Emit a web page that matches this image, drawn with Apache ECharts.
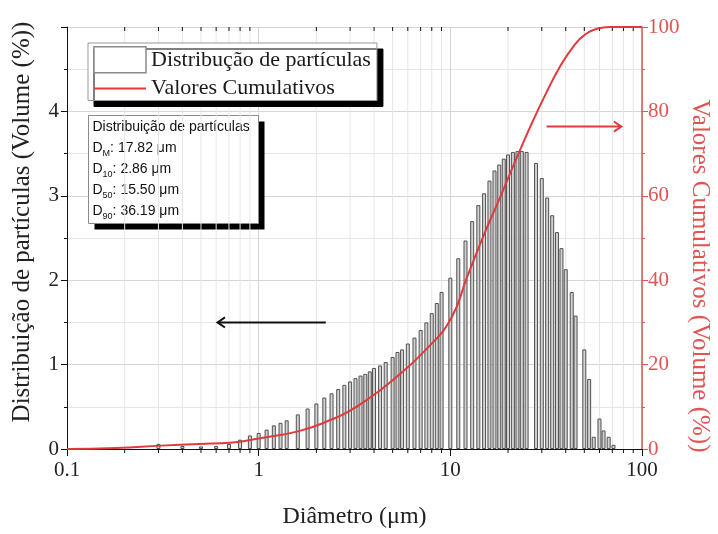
<!DOCTYPE html>
<html>
<head>
<meta charset="utf-8">
<script src="https://cdn.jsdelivr.net/npm/echarts@6/dist/echarts.min.js"></script>
<style>
  html, body { margin: 0; padding: 0; background: #fff; }
  #chart { width: 718px; height: 534px; }
</style>
</head>
<body>
<div id="chart"></div>
<script>
// Particle size classes (µm) and volume fraction per class (%)
const diameters = [0.3, 0.4, 0.5, 0.6, 0.7, 0.8, 0.9, 1.0, 1.1, 1.2, 1.3, 1.4,
  1.6, 1.8, 2.0, 2.2, 2.4, 2.6, 2.8, 3.0, 3.2, 3.4, 3.6, 3.8, 4.0,
  4.3, 4.6, 5.0, 5.3, 5.6, 6.0, 6.5, 7.0, 7.5, 8.0, 8.5, 9.0,
  10, 11, 12, 13, 14, 15, 16, 17, 18, 19, 20, 21.2, 22.4, 23.6, 25,
  28, 30, 32, 34, 36, 38, 40, 43, 45, 50, 53, 56, 60, 63, 67, 71];
const volumes = [0.06, 0.035, 0.03, 0.035, 0.06, 0.11, 0.16, 0.19, 0.23, 0.28, 0.31, 0.34,
  0.41, 0.48, 0.54, 0.61, 0.66, 0.71, 0.76, 0.80, 0.84, 0.87, 0.89, 0.92, 0.96,
  0.99, 1.03, 1.09, 1.15, 1.18, 1.25, 1.32, 1.41, 1.50, 1.61, 1.73, 1.86,
  2.03, 2.26, 2.47, 2.70, 2.89, 3.03, 3.18, 3.30, 3.37, 3.44, 3.49, 3.52, 3.53, 3.53, 3.52,
  3.39, 3.21, 2.98, 2.77, 2.57, 2.38, 2.13, 1.86, 1.58, 1.18, 0.83, 0.145, 0.36, 0.22, 0.145, 0.05];

// Cumulative volume curve (%)
const cumDiameters = [0.1, 0.18, 0.31, 0.49, 0.71, 1.0, 1.64, 2.44, 3.0, 3.67, 5.0, 7.55,
  10.1, 12.2, 14.8, 18.2, 22.3, 27, 31.2, 37.3, 44.7, 50.4, 58.2, 68, 100];
const cumValues = [0, 0.25, 0.8, 1.2, 1.5, 2.5, 4.3, 7.1, 9.1, 11.65, 16.3, 23.8,
  31.0, 40.6, 50.2, 59.7, 69.2, 77.8, 83.8, 90.6, 95.9, 98.2, 99.6, 100, 100];

// Axis ticks
const xMajorTicks = [0.1, 1, 10, 100];
const xMinorTicks = [0.2, 0.3, 0.4, 0.5, 0.6, 0.7, 0.8, 0.9, 2, 3, 4, 5, 6, 7, 8, 9, 20, 30, 40, 50, 60, 70, 80, 90];

// Summary statistics
const statsTitle = 'Distribuição de partículas';
const statsLabels = ['M', '10', '50', '90'];
const statsValues = ['17.82', '2.86', '15.50', '36.19'];

const barName = 'Distribução de partículas';
const lineName = 'Valores Cumulativos';
const serif = 'Liberation Serif';
const red = '#e03a3c';
const redAxis = '#e05454';

const chart = echarts.init(document.getElementById('chart'));

chart.setOption({
  animation: false,
  backgroundColor: '#fff',
  grid: { left: 67, right: 76, top: 27, bottom: 80 },
  legend: {
    orient: 'vertical',
    left: 88,
    top: 43,
    selectedMode: false,
    data: [
      { name: barName, icon: 'rect', itemStyle: { color: '#fff', borderColor: '#8a8a8a', borderWidth: 1.5 } },
      { name: lineName, itemStyle: { color: 'rgba(0,0,0,0)', borderWidth: 0 } }
    ],
    itemWidth: 52,
    itemHeight: 26,
    itemGap: 4,
    padding: [3, 6, 1, 5],
    backgroundColor: '#fff',
    borderColor: '#999',
    borderWidth: 1,
    shadowColor: '#000',
    shadowOffsetX: 6,
    shadowOffsetY: 6,
    shadowBlur: 0,
    textStyle: { fontFamily: serif, fontSize: 22, color: '#1a1a1a' }
  },
  xAxis: [
    {
      type: 'log', logBase: 10, min: 0.1, max: 100, position: 'bottom',
      name: 'Diâmetro (μm)', nameLocation: 'middle', nameGap: 56,
      nameTextStyle: { fontFamily: serif, fontSize: 24, color: '#222' },
      axisLine: { lineStyle: { color: '#111', width: 1 } },
      axisTick: { length: 7, lineStyle: { color: '#111' } },
      axisLabel: { fontFamily: serif, fontSize: 21, color: '#222', margin: 11,
        formatter: v => String(+(+v).toPrecision(3)) },
      splitLine: { show: true, lineStyle: { color: '#d6d6d6' } }
    },
    {
      type: 'log', logBase: 10, min: 0.1, max: 100, position: 'top',
      axisLine: { lineStyle: { color: '#111', width: 1 } },
      axisTick: { inside: true, length: 6, lineStyle: { color: '#111' } },
      axisLabel: { show: false },
      splitLine: { show: false }
    }
  ],
  yAxis: [
    {
      type: 'value', min: 0, max: 5, interval: 1, position: 'left',
      axisLine: { show: true, lineStyle: { color: '#111', width: 1 } },
      axisTick: { show: true, length: 6, lineStyle: { color: '#111' } },
      minorTick: { show: true, splitNumber: 2, length: 3, lineStyle: { color: '#111' } },
      axisLabel: { fontFamily: serif, fontSize: 21, color: '#222', margin: 8,
        formatter: v => (v === 5 ? '' : String(v)) },
      splitLine: { show: true, lineStyle: { color: '#d6d6d6' } },
      minorSplitLine: { show: true, lineStyle: { color: '#e6e6e6' } }
    },
    {
      type: 'value', min: 0, max: 100, interval: 20, position: 'right',
      axisLine: { show: true, lineStyle: { color: redAxis, width: 1.5 } },
      axisTick: { show: true, length: 6, lineStyle: { color: redAxis } },
      minorTick: { show: true, splitNumber: 2, length: 3, lineStyle: { color: redAxis } },
      axisLabel: { fontFamily: serif, fontSize: 21, color: redAxis, margin: 6 },
      splitLine: { show: false }
    }
  ],
  series: [
    {
      // log-decade minor grid lines and minor ticks on the bottom and top frame
      type: 'custom',
      silent: true,
      z: 1,
      xAxisIndex: 0, yAxisIndex: 0,
      data: xMinorTicks.map(v => [v, 0]),
      encode: { x: 0, y: 1 },
      renderItem: function (params, api) {
        const v = api.value(0);
        const b = api.coord([v, 0]);
        const t = api.coord([v, 5]);
        return {
          type: 'group',
          children: [
            { type: 'line', shape: { x1: b[0], y1: t[1], x2: b[0], y2: b[1] },
              style: { stroke: '#e6e6e6', lineWidth: 1 } },
            { type: 'line', shape: { x1: b[0], y1: b[1], x2: b[0], y2: b[1] + 4 },
              style: { stroke: '#111', lineWidth: 1 } },
            { type: 'line', shape: { x1: b[0], y1: t[1], x2: b[0], y2: t[1] + 4 },
              style: { stroke: '#111', lineWidth: 1 } }
          ]
        };
      }
    },
    {
      name: barName,
      type: 'bar',
      xAxisIndex: 0, yAxisIndex: 0,
      barWidth: 4,
      z: 2,
      data: diameters.map((d, i) => [d, volumes[i]]),
      itemStyle: { color: '#d2d2d2', borderColor: '#505050', borderWidth: 1 }
    },
    {
      name: lineName,
      type: 'line',
      xAxisIndex: 0, yAxisIndex: 1,
      z: 3,
      symbol: 'none',
      smooth: 0.5,
      data: cumDiameters.map((d, i) => [d, cumValues[i]]),
      lineStyle: { color: red, width: 2 },
      itemStyle: { color: red }
    }
  ]
});

// Direction arrows pointing at the axis each series belongs to
const leftArrow = { from: [2.24, 1.5], to: [0.61, 1.5], axis: 0, color: '#111' };
const rightArrow = { from: [31.8, 76.4], to: [78, 76.4], axis: 1, color: red };

function arrowShapes(a) {
  const p = chart.convertToPixel({ xAxisIndex: 0, yAxisIndex: a.axis }, a.from);
  const q = chart.convertToPixel({ xAxisIndex: 0, yAxisIndex: a.axis }, a.to);
  const ang = Math.atan2(q[1] - p[1], q[0] - p[0]);
  const L = 9, W = 0.6;
  const h1 = [q[0] - L * Math.cos(ang - W), q[1] - L * Math.sin(ang - W)];
  const h2 = [q[0] - L * Math.cos(ang + W), q[1] - L * Math.sin(ang + W)];
  return [
    { type: 'line', z: 10, shape: { x1: p[0], y1: p[1], x2: q[0], y2: q[1] },
      style: { stroke: a.color, lineWidth: 2 } },
    { type: 'polyline', z: 10, shape: { points: [h1, q, h2] },
      style: { stroke: a.color, lineWidth: 2, fill: null } }
  ];
}

// Statistics box text with subscripted D labels
const statsText = ['{h|' + statsTitle + '}']
  .concat(statsLabels.map((s, i) => '{d|D}{s|' + s + '}{d|: ' + statsValues[i] + ' μm}'))
  .join('\n');

const graphics = [
  {
    type: 'group', left: 88, top: 115, z: 20,
    children: [
      { type: 'rect', shape: { x: 6, y: 6, width: 170, height: 108 }, style: { fill: '#000' } },
      { type: 'rect', shape: { x: 0, y: 0, width: 170, height: 108 },
        style: { fill: '#fff', stroke: '#8a8a8a', lineWidth: 1 } },
      { type: 'text', x: 4, y: 1,
        style: {
          text: statsText,
          fill: '#111',
          rich: {
            h: { fontFamily: 'Liberation Sans', fontSize: 14, lineHeight: 21, fill: '#111' },
            d: { fontFamily: 'Liberation Sans', fontSize: 14, lineHeight: 21, fill: '#111' },
            s: { fontFamily: 'Liberation Sans', fontSize: 9, lineHeight: 11, verticalAlign: 'bottom', fill: '#111' }
          }
        } }
    ]
  },
  {
    type: 'text', x: 22, y: 222, rotation: Math.PI / 2, z: 20,
    style: { text: 'Distribuição de partículas (Volume (%))', fontFamily: serif, fontSize: 25,
      fill: '#222', align: 'center', verticalAlign: 'middle' }
  },
  {
    type: 'text', x: 700, y: 276, rotation: -Math.PI / 2, z: 20,
    style: { text: 'Valores Cumulativos (Volume (%))', fontFamily: serif, fontSize: 25,
      fill: redAxis, align: 'center', verticalAlign: 'middle' }
  }
].concat(arrowShapes(leftArrow), arrowShapes(rightArrow));

chart.setOption({ graphic: graphics });
</script>
</body>
</html>
